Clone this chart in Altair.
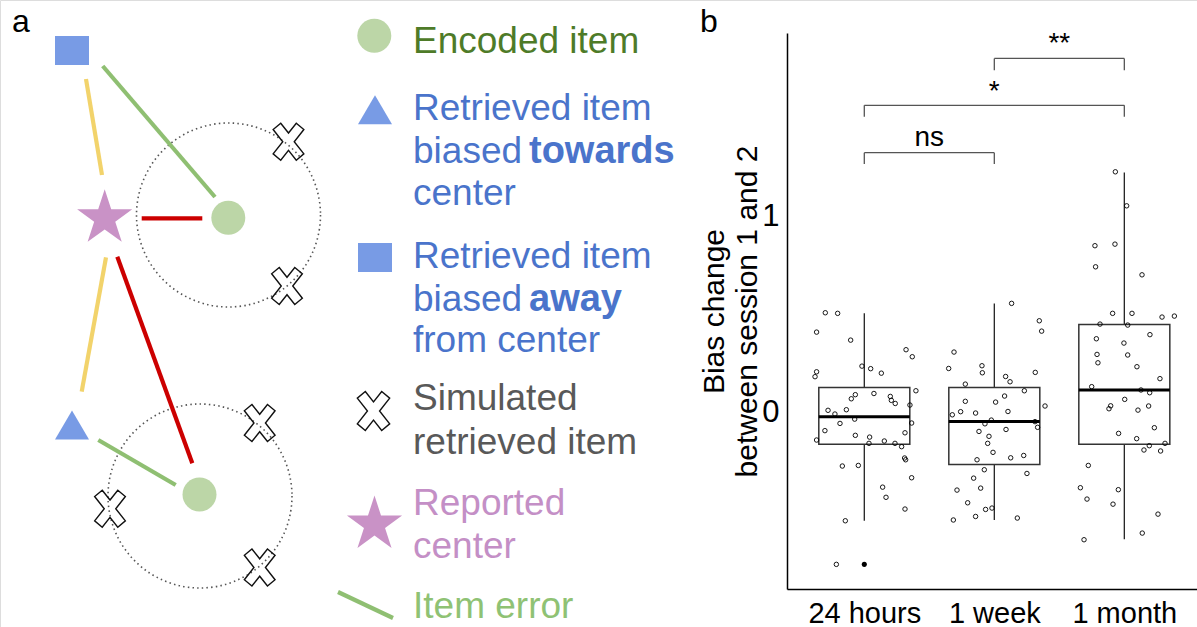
import altair as alt
import pandas as pd

FONT = "Liberation Sans"
W, H = 1197, 627

# ---------------- panel a: schematic ----------------
# diagram plane: x to the right, y downward
encoded_x = [228.3, 199.5]
encoded_y = [217.7, 494.5]
ring_x = [228.5, 200.0]
ring_y = [215.0, 496.0]
away_x, away_y = [72.0], [50.5]
towards_x, towards_y = [72.0], [425.0]
center_x, center_y = [104.7], [218.3]
simulated_x = [288.5, 287.0, 259.7, 110.0, 259.7]
simulated_y = [141.7, 286.0, 423.0, 508.7, 567.5]

seg_x1 = [86.0, 106.0, 102.7, 98.3, 141.7, 117.3]
seg_y1 = [79.0, 257.3, 66.0, 440.0, 218.3, 256.7]
seg_x2 = [102.0, 81.7, 215.0, 175.7, 202.3, 192.3]
seg_y2 = [175.0, 391.7, 197.0, 485.0, 218.3, 463.3]
seg_color = ["#f2d36b", "#f2d36b", "#8fbf72", "#8fbf72", "#cc0000", "#cc0000"]

# legend column
key_circle = (374.3, 35.7)
key_triangle = (375.0, 109.7)
key_square = (375.0, 257.5)
key_cross = (373.5, 411.0)
key_star = (374.5, 524.5)
key_line = (338.0, 592.0, 393.0, 618.0)

BLUE_TXT = "#4a74cb"
key_text = ["Encoded item", "Retrieved item", "biased", "center",
            "Retrieved item", "biased", "from center",
            "Simulated", "retrieved item", "Reported", "center", "Item error"]
key_text_y = [53, 120, 163, 205, 268, 311, 352, 410, 454, 515, 558, 618]
key_text_color = ["#4e7b28", BLUE_TXT, BLUE_TXT, BLUE_TXT, BLUE_TXT, BLUE_TXT,
                  BLUE_TXT, "#595959", "#595959", "#c48fc6", "#c48fc6", "#8fc274"]
key_bold = ["towards", "away"]
key_bold_y = [163, 311]

panel_tags = ["a", "b"]
panel_tag_x = [12, 700]

# ---------------- panel b: bias change ----------------
groups = ["24 hours", "1 week", "1 month"]
q1 = [-0.165, -0.268, -0.165]
median = [-0.024, -0.048, 0.113]
q3 = [0.126, 0.126, 0.448]
whisk_lo = [-0.556, -0.552, -0.651]
whisk_hi = [0.505, 0.556, 1.226]
outlier_group = [1]
outlier_value = [-0.779]

g1_off = [-0.300, -0.205, -0.367, -0.105, 0.321, 0.369, -0.018, 0.049, 0.131, -0.367,
          -0.379, 0.397, 0.074, -0.069, -0.100, 0.200, 0.208, 0.238, 0.351, -0.279,
          -0.138, -0.226, -0.074, -0.187, 0.364, -0.303, 0.313, -0.069, 0.041, -0.367,
          0.036, 0.154, 0.236, 0.287, 0.310, 0.318, -0.169, -0.046, 0.364, 0.141,
          0.167, 0.313, -0.146, -0.215]
g1_val = [0.508, 0.505, 0.409, 0.368, 0.319, 0.283, 0.235, 0.222, 0.199, 0.206,
          0.181, 0.109, 0.095, 0.089, 0.068, 0.080, 0.060, 0.044, 0.036, 0.009,
          0.012, -0.010, -0.036, -0.058, -0.056, -0.095, -0.106, -0.119, -0.128, -0.143,
          -0.160, -0.148, -0.160, -0.177, -0.235, -0.244, -0.276, -0.273, -0.336, -0.384,
          -0.436, -0.496, -0.556, -0.779]
g2_off = [0.133, 0.346, 0.364, -0.310, -0.095, -0.351, -0.092, 0.315, 0.087, 0.121,
          -0.223, 0.231, 0.079, -0.223, 0.010, 0.390, 0.105, -0.259, -0.144, -0.323,
          -0.023, -0.072, 0.313, 0.333, 0.090, -0.118, -0.041, -0.051, -0.010, 0.126,
          0.226, -0.133, 0.251, -0.077, -0.159, -0.105, -0.287, -0.205, -0.067, -0.018,
          -0.144, 0.177, -0.315]
g2_val = [0.556, 0.467, 0.414, 0.307, 0.237, 0.223, 0.201, 0.203, 0.182, 0.155,
          0.143, 0.109, 0.082, 0.055, 0.051, 0.031, 0.003, 0.002, -0.005, -0.014,
          -0.041, -0.060, -0.049, -0.078, -0.089, -0.099, -0.124, -0.160, -0.206, -0.234,
          -0.222, -0.244, -0.314, -0.295, -0.338, -0.389, -0.399, -0.464, -0.498, -0.491,
          -0.534, -0.542, -0.552]
g3_off = [-0.069, 0.018, -0.226, -0.072, -0.221, 0.136, -0.090, 0.059, 0.290, 0.385,
          -0.187, 0.026, 0.197, -0.215, -0.003, 0.026, -0.210, -0.203, 0.097, 0.274,
          -0.251, 0.128, 0.195, 0.003, -0.105, -0.118, 0.105, 0.187, 0.231, -0.044,
          0.095, 0.313, 0.192, 0.151, 0.279, -0.277, -0.338, -0.046, -0.287, -0.087,
          0.259, 0.138, -0.310]
g3_val = [1.229, 1.055, 0.851, 0.859, 0.743, 0.702, 0.505, 0.505, 0.486, 0.491,
          0.450, 0.445, 0.396, 0.375, 0.353, 0.292, 0.295, 0.252, 0.232, 0.171,
          0.130, 0.113, 0.099, 0.065, 0.032, 0.017, 0.010, 0.031, -0.080, -0.109,
          -0.136, -0.160, -0.172, -0.194, -0.199, -0.273, -0.387, -0.397, -0.445, -0.471,
          -0.522, -0.619, -0.653]

bracket_from = [1, 1, 2]
bracket_to = [2, 3, 3]
bracket_top = [1.327, 1.569, 1.809]
bracket_foot = [1.269, 1.511, 1.749]
bracket_label = ["ns", "*", "**"]
bracket_label_y = [1.363, 1.598, 1.840]

# ---------------- shapes ----------------
SQUARE = "M-1,-0.85H1V0.85H-1Z"
TRIANGLE = "M0,-0.85L1,0.85L-1,0.85Z"
CROSS = ("M-0.42,-1L0,-0.47L0.42,-1L0.83,-0.66L0.31,0L0.83,0.66L0.42,1L0,0.47"
         "L-0.42,1L-0.83,0.66L-0.31,0L-0.83,-0.66Z")
STAR = ("M0,-1L0.2245,-0.309L0.9511,-0.309L0.3633,0.118L0.5878,0.809L0,0.382"
        "L-0.5878,0.809L-0.3633,0.118L-0.9511,-0.309L-0.2245,-0.309Z")
BOX_HALF = 0.35

# ---------------- scales ----------------
xa = alt.Scale(domain=[0, W], range=[0, W], nice=False, zero=False)
ya = alt.Scale(domain=[0, H], range=[0, H], nice=False, zero=False)
xb = alt.Scale(domain=[0.4054, 3.559], range=[787, 1197], nice=False, zero=False)
yb = alt.Scale(domain=[-0.905, 1.939], range=[589, 33], nice=False, zero=False)


def XA(f):
    return alt.X(f, type="quantitative", scale=xa, axis=None)


def YA(f):
    return alt.Y(f, type="quantitative", scale=ya, axis=None)


def XB(f):
    return alt.X(f, type="quantitative", scale=xb, axis=None)


def YB(f):
    return alt.Y(f, type="quantitative", scale=yb, axis=None)


def symbol(xs, ys, shape, size, color, filled=True, **kw):
    df = pd.DataFrame({"x": xs, "y": ys})
    if filled:
        mk = alt.Chart(df).mark_point(shape=shape, size=size, filled=True, fill=color,
                                      strokeWidth=0, opacity=1, **kw)
    else:
        mk = alt.Chart(df).mark_point(shape=shape, size=size, filled=False, fill=None,
                                      stroke=color, opacity=1, **kw)
    return mk.encode(x=XA("x"), y=YA("y"))


layers = []

# dotted rings around each encoded item
layers.append(symbol(ring_x, ring_y, "circle", 184 ** 2, "#555555", filled=False,
                     strokeWidth=1.6, strokeDash=[1.5, 3.2]))

# error segments
seg_df = pd.DataFrame({"x1": seg_x1, "y1": seg_y1, "x2": seg_x2, "y2": seg_y2,
                       "c": seg_color})
layers.append(alt.Chart(seg_df).mark_rule(strokeWidth=4.2, strokeCap="butt").encode(
    x=XA("x1"), y=YA("y1"), x2="x2", y2="y2", color=alt.Color("c:N", scale=None)))

# legend line
kl_df = pd.DataFrame({"x1": [key_line[0]], "y1": [key_line[1]],
                      "x2": [key_line[2]], "y2": [key_line[3]]})
layers.append(alt.Chart(kl_df).mark_rule(strokeWidth=4.2, strokeCap="butt",
                                          color="#8fbf72").encode(
    x=XA("x1"), y=YA("y1"), x2="x2", y2="y2"))

GREEN_FILL = "#bcd6a7"
BLUE_FILL = "#789be5"
STAR_FILL = "#c992c6"

layers.append(symbol(encoded_x + [key_circle[0]], encoded_y + [key_circle[1]],
                     "circle", 34 ** 2, GREEN_FILL))
layers.append(symbol(away_x + [key_square[0]], away_y + [key_square[1]],
                     SQUARE, 34 ** 2, BLUE_FILL))
layers.append(symbol(towards_x + [key_triangle[0]], towards_y + [key_triangle[1]],
                     TRIANGLE, 34 ** 2, BLUE_FILL))
layers.append(symbol(center_x + [key_star[0]], center_y + [key_star[1]],
                     STAR, 58 ** 2, STAR_FILL))
layers.append(symbol(simulated_x, simulated_y, CROSS, 37 ** 2, "#111111",
                     filled=False, strokeWidth=1.4))
layers.append(symbol([key_cross[0]], [key_cross[1]], CROSS, 39 ** 2, "#111111",
                     filled=False, strokeWidth=1.4))

# legend text
kt_df = pd.DataFrame({"t": key_text, "y": key_text_y, "c": key_text_color,
                      "x": [413] * len(key_text)})
layers.append(alt.Chart(kt_df).mark_text(align="left", baseline="alphabetic",
                                          fontSize=37, font=FONT).encode(
    x=XA("x"), y=YA("y"), text="t:N", color=alt.Color("c:N", scale=None)))
kb_df = pd.DataFrame({"t": key_bold, "y": key_bold_y, "x": [529] * len(key_bold)})
layers.append(alt.Chart(kb_df).mark_text(align="left", baseline="alphabetic",
                                          fontSize=38, fontWeight="bold", font=FONT,
                                          color=BLUE_TXT).encode(
    x=XA("x"), y=YA("y"), text="t:N"))

# panel tags
tag_df = pd.DataFrame({"t": panel_tags, "x": panel_tag_x, "y": [32, 32]})
layers.append(alt.Chart(tag_df).mark_text(align="left", baseline="alphabetic",
                                           fontSize=32, font=FONT, color="black").encode(
    x=XA("x"), y=YA("y"), text="t:N"))

# ---------------- panel b layers ----------------
pos = [1, 2, 3]
box_df = pd.DataFrame({"pos": pos, "group": groups, "q1": q1, "q3": q3,
                       "median": median, "lo": whisk_lo, "hi": whisk_hi})

label_expr = " : ".join(
    f"datum.value == {p} ? '{g}'" for p, g in zip(pos, groups)) + " : ''"

axis_x = alt.Axis(values=pos, labelExpr=label_expr, orient="bottom", offset=-38,
                  ticks=False, tickSize=0, domainColor="black", domainWidth=1.5,
                  labelFontSize=29, labelColor="black", labelPadding=10,
                  labelFlush=False, labelOverlap=False, grid=False, title=None,
                  labelFont=FONT)
axis_y = alt.Axis(values=[0, 1], orient="left", offset=-787, ticks=False, tickSize=0,
                  domainColor="black", domainWidth=1.5, labelFontSize=31,
                  labelColor="black", labelPadding=8, grid=False, labelFont=FONT,
                  title=["Bias change", "between session 1 and 2"], titleFont=FONT,
                  titleFontSize=30, titleFontWeight="normal", titleColor="black",
                  titlePadding=-1, titleLineHeight=33)

whisk = alt.Chart(box_df).mark_rule(color="#222222", strokeWidth=1.3)
layers.append(whisk.encode(x=XB("pos"), y=YB("hi"), y2="q3"))
layers.append(whisk.encode(x=XB("pos"), y=YB("q1"), y2="lo"))

layers.append(alt.Chart(box_df).transform_calculate(
    left=f"datum.pos - {BOX_HALF}", right=f"datum.pos + {BOX_HALF}"
).mark_rect(fill=None, stroke="#333333", strokeWidth=1.5).encode(
    x=alt.X("left:Q", scale=xb, axis=axis_x),
    x2="right:Q",
    y=alt.Y("q1:Q", scale=yb, axis=axis_y),
    y2="q3:Q"))

layers.append(alt.Chart(box_df).transform_calculate(
    left=f"datum.pos - {BOX_HALF}", right=f"datum.pos + {BOX_HALF}"
).mark_rule(color="black", strokeWidth=3).encode(
    x=XB("left"), x2="right", y=YB("median")))

pts = pd.DataFrame({
    "pos": [1] * len(g1_off) + [2] * len(g2_off) + [3] * len(g3_off),
    "off": g1_off + g2_off + g3_off,
    "val": g1_val + g2_val + g3_val,
})
layers.append(alt.Chart(pts).transform_calculate(xp="datum.pos + datum.off").mark_point(
    shape="circle", size=20, filled=False, stroke="black", strokeWidth=0.9, opacity=1
).encode(x=XB("xp"), y=YB("val")))

out_df = pd.DataFrame({"pos": outlier_group, "val": outlier_value})
layers.append(alt.Chart(out_df).mark_point(
    shape="circle", size=26, filled=True, fill="black", strokeWidth=0, opacity=1
).encode(x=XB("pos"), y=YB("val")))

# significance brackets
br_df = pd.DataFrame({"a": bracket_from, "b": bracket_to, "top": bracket_top,
                      "foot": bracket_foot, "lab": bracket_label,
                      "ly": bracket_label_y})
br = alt.Chart(br_df).mark_rule(color="#555555", strokeWidth=1.3)
layers.append(br.encode(x=XB("a"), x2="b", y=YB("top")))
layers.append(br.encode(x=XB("a"), y=YB("foot"), y2="top"))
layers.append(br.encode(x=XB("b"), y=YB("foot"), y2="top"))
layers.append(alt.Chart(br_df).transform_calculate(mid="(datum.a + datum.b) / 2")
              .mark_text(fontSize=28, font=FONT, color="black", baseline="alphabetic",
                         align="center")
              .encode(x=XB("mid"), y=YB("ly"), text="lab:N"))

chart = alt.layer(*layers).resolve_scale(
    x="independent", y="independent"
).properties(
    width=W, height=H, padding=0,
    autosize=alt.AutoSizeParams(type="none"),
    background="white",
).configure_view(stroke=None).configure(font=FONT)

chart.save("out.html", embed_options={"renderer": "svg", "actions": False})
